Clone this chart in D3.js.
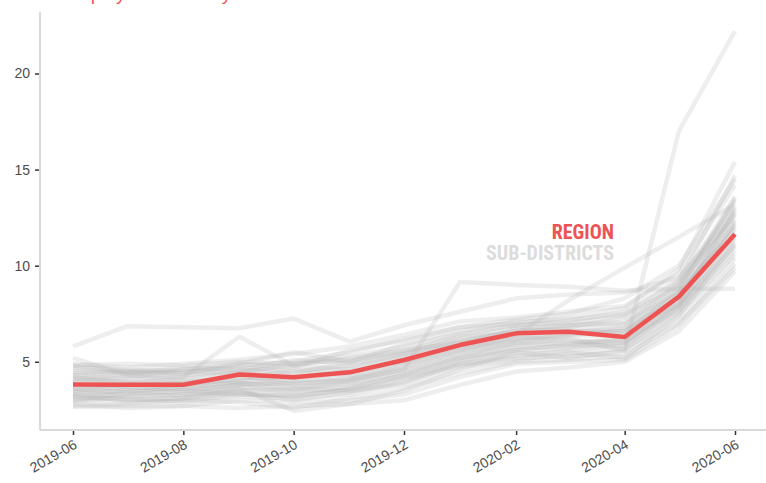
<!DOCTYPE html>
<html lang="en">
<head>
<meta charset="UTF-8">
<title>Region vs sub-districts</title>
<script src="https://cdn.jsdelivr.net/npm/d3@7"></script>
<style>
    body { margin: 0; background: #fff; }
    .tick text { font-family: "Liberation Sans", Arial, sans-serif; fill: #4d4d4d; }
</style>
</head>
<body>
<svg id="chart" width="766" height="483"></svg>

<script>
// months shown on the x axis (one point per month)
var months = ["2019-06", "2019-07", "2019-08", "2019-09", "2019-10", "2019-11", "2019-12",
              "2020-01", "2020-02", "2020-03", "2020-04", "2020-05", "2020-06"];

var xTicks = ["2019-06", "2019-08", "2019-10", "2019-12", "2020-02", "2020-04", "2020-06"];
var yTicks = [5, 10, 15, 20];

var regionName = "REGION";
var districtName = "SUB-DISTRICTS";

// regional rate
var region = [3.82, 3.8, 3.8, 4.34, 4.2, 4.45, 5.09, 5.87, 6.48, 6.56, 6.29, 8.39, 11.64];

// one row per sub-district
var subDistricts = [
    [5.8, 6.85, 6.8, 6.75, 7.25, 6.05, 6.9, 7.6, 8.3, 8.5, 8.6, 9.4, 12.6],
    [3.6, 3.4, 3.7, 3.9, 3.6, 4.0, 4.6, 5.4, 5.9, 6.2, 5.6, 17.0, 22.2],
    [3.3, 3.5, 3.4, 3.8, 3.9, 4.1, 4.6, 9.15, 9.0, 8.9, 8.7, 8.8, 8.8],
    [4.3, 4.1, 4.2, 4.5, 4.8, 5.2, 5.6, 6.0, 6.4, 8.2, 9.9, 11.5, 13.2],
    [4.4, 4.5, 4.4, 4.8, 5.0, 5.5, 6.2, 6.8, 7.0, 7.3, 7.8, 9.8, 15.4],
    [5.2, 4.3, 4.2, 6.3, 4.8, 4.6, 5.2, 5.9, 6.7, 6.6, 6.6, 8.5, 12.1],
    [3.3, 3.0, 3.1, 3.6, 2.45, 2.8, 3.5, 4.6, 5.5, 5.2, 5.6, 7.6, 10.8],
    [2.65, 2.7, 2.7, 2.6, 2.7, 2.8, 3.0, 3.8, 4.5, 4.7, 5.0, 6.6, 9.7],
    [4.6, 4.5, 4.6, 4.9, 5.5, 5.0, 5.9, 6.6, 7.1, 7.2, 7.5, 9.2, 14.7],
    [4.1, 3.9, 4.1, 4.4, 4.3, 4.7, 5.3, 6.1, 6.6, 6.9, 7.0, 8.7, 13.5],
    [3.0, 2.9, 3.0, 3.2, 3.1, 3.3, 3.9, 4.9, 5.4, 5.5, 5.2, 7.4, 11.2],
    [3.8, 3.7, 3.6, 4.0, 4.0, 4.2, 4.9, 5.6, 6.3, 6.1, 6.0, 8.1, 12.3],
    [4.8, 4.9, 4.8, 5.0, 4.9, 5.3, 5.8, 6.5, 6.9, 7.0, 7.4, 8.9, 13.0],
    [2.9, 3.2, 3.3, 3.4, 3.0, 3.4, 4.0, 5.0, 5.6, 5.9, 5.8, 7.9, 11.7],
    [3.5, 3.2, 3.3, 3.7, 3.4, 3.7, 4.3, 5.1, 5.7, 5.8, 6.2, 8.2, 12.8],
    [4.0, 4.2, 4.6, 4.7, 4.5, 4.8, 5.4, 6.2, 6.8, 6.9, 7.1, 8.6, 11.9],
    [3.1, 3.1, 2.9, 3.3, 3.3, 3.5, 4.1, 4.8, 5.2, 5.3, 5.5, 7.2, 10.4],
    [4.5, 4.4, 4.7, 4.6, 4.4, 5.0, 5.6, 6.3, 6.5, 6.8, 7.3, 9.0, 13.6],
    [3.7, 3.6, 3.8, 3.9, 3.7, 3.8, 4.5, 5.3, 6.0, 6.3, 6.4, 8.4, 12.2],
    [2.8, 2.6, 2.7, 3.0, 2.9, 3.0, 3.3, 4.2, 4.9, 5.0, 5.1, 6.9, 10.1],
    [4.2, 3.9, 3.8, 4.1, 4.6, 4.3, 5.0, 5.7, 6.1, 6.4, 6.6, 8.0, 12.0],
    [3.4, 3.5, 3.6, 3.6, 3.5, 3.9, 4.4, 5.2, 5.8, 6.0, 6.1, 7.7, 11.4],
    [4.9, 4.7, 4.9, 5.1, 5.4, 5.8, 6.4, 7.1, 7.3, 7.6, 7.9, 9.6, 14.2],
    [3.2, 3.3, 3.5, 3.3, 3.2, 3.6, 4.2, 4.9, 5.3, 5.6, 5.9, 7.8, 11.0],
    [3.9, 4.0, 3.9, 4.2, 4.1, 4.4, 5.1, 5.8, 6.2, 6.5, 6.8, 8.3, 12.9],
    [2.7, 2.8, 3.0, 2.9, 2.6, 3.1, 3.6, 4.4, 5.0, 5.1, 5.3, 7.0, 9.9],
    [4.7, 4.6, 4.5, 4.4, 4.9, 5.1, 5.5, 6.4, 6.9, 7.1, 7.6, 9.3, 13.1],
    [3.6, 3.8, 3.9, 4.3, 3.8, 4.1, 4.7, 5.5, 6.0, 5.9, 6.3, 8.0, 11.5],
    [4.3, 4.4, 4.3, 4.6, 5.1, 4.9, 5.4, 6.0, 6.6, 6.7, 6.9, 9.1, 12.4],
    [3.0, 3.4, 3.2, 3.5, 3.6, 3.5, 3.8, 4.7, 5.1, 5.4, 5.7, 7.5, 10.6],
    [4.1, 4.3, 4.0, 4.0, 4.2, 4.5, 5.0, 5.9, 6.4, 6.6, 6.5, 8.8, 13.4],
    [3.5, 3.7, 3.5, 3.8, 3.9, 4.0, 4.8, 5.6, 6.2, 6.4, 6.7, 8.6, 12.7],
    [4.8, 4.5, 4.4, 4.9, 4.7, 5.6, 6.1, 6.8, 7.2, 7.5, 8.3, 10.0, 14.5],
    [3.2, 3.0, 3.1, 3.4, 3.2, 3.6, 4.3, 5.2, 5.6, 5.7, 6.0, 7.9, 11.1]
];

var red = "#ee5354";

var svg = d3.select("#chart"),
    margin = {top: 12, right: 0, bottom: 53, left: 40},
    width = +svg.attr("width") - margin.left - margin.right,
    height = +svg.attr("height") - margin.top - margin.bottom,
    g = svg.append("g").attr("transform", "translate(" + margin.left + "," + margin.top + ")");

var parseMonth = d3.timeParse("%Y-%m");
var dates = months.map(parseMonth);

var x = d3.scaleTime()
    .domain(d3.extent(dates))
    .range([33, 695]);

var y = d3.scaleLinear()
    .domain([1.45, 23.2])
    .range([height, 0]);

var line = d3.line()
    .x(function (d, i) { return x(dates[i]); })
    .y(function (d) { return y(d); });

// title, mostly cut off at the top edge like the original
svg.append("text")
    .attr("x", 40)
    .attr("y", 0)
    .attr("fill", red)
    .attr("font-family", "Liberation Sans, Arial, sans-serif")
    .attr("font-size", 19)
    .text("Unemployment rate by sub-district");

// axes
var xAxis = g.append("g")
    .attr("transform", "translate(0," + height + ")")
    .call(d3.axisBottom(x)
        .tickValues(xTicks.map(parseMonth))
        .tickFormat(d3.timeFormat("%Y-%m"))
        .tickSize(5)
        .tickPadding(4));
xAxis.select(".domain").remove();
xAxis.selectAll(".tick line").attr("stroke", "#333").attr("stroke-width", 1.5).attr("y1", 1);
xAxis.selectAll(".tick text")
    .attr("font-size", 14)
    .attr("text-anchor", "end")
    .attr("dy", "0.35em")
    .attr("transform", "translate(2,13) rotate(-30)")
    .attr("y", 0);

var yAxis = g.append("g")
    .call(d3.axisLeft(y)
        .tickValues(yTicks)
        .tickSize(5)
        .tickPadding(5));
yAxis.select(".domain").remove();
yAxis.selectAll(".tick line").attr("stroke", "#333").attr("stroke-width", 1.5).attr("x1", -1);
yAxis.selectAll(".tick text").attr("font-size", 14);

g.append("line")
    .attr("x1", 0).attr("x2", width)
    .attr("y1", height).attr("y2", height)
    .attr("stroke", "#d9d9d9").attr("stroke-width", 2);
g.append("line")
    .attr("x1", 0).attr("x2", 0)
    .attr("y1", 0).attr("y2", height)
    .attr("stroke", "#d9d9d9").attr("stroke-width", 2);

// sub-district lines
g.selectAll(".district")
    .data(subDistricts)
    .enter().append("path")
    .attr("class", "district")
    .attr("fill", "none")
    .attr("stroke", "#b3b3b3")
    .attr("stroke-opacity", 0.22)
    .attr("stroke-width", 4.5)
    .attr("stroke-linejoin", "round")
    .attr("d", line);

// region line
g.append("path")
    .datum(region)
    .attr("fill", "none")
    .attr("stroke", red)
    .attr("stroke-width", 4.5)
    .attr("stroke-linejoin", "round")
    .attr("d", line);

// labels
var labelFont = "'Liberation Sans Narrow', 'Roboto Condensed', Roboto, sans-serif";
g.append("text")
    .attr("x", 574)
    .attr("y", y(region[12]) + 5)
    .attr("text-anchor", "end")
    .attr("font-family", labelFont)
    .attr("font-weight", "bold")
    .attr("font-size", 20)
    .attr("fill", red)
    .text(regionName);
g.append("text")
    .attr("x", 574)
    .attr("y", y(region[12]) + 26)
    .attr("text-anchor", "end")
    .attr("font-family", labelFont)
    .attr("font-weight", "bold")
    .attr("font-size", 20)
    .attr("fill", "#dcdcdc")
    .text(districtName);
</script>
</body>
</html>
